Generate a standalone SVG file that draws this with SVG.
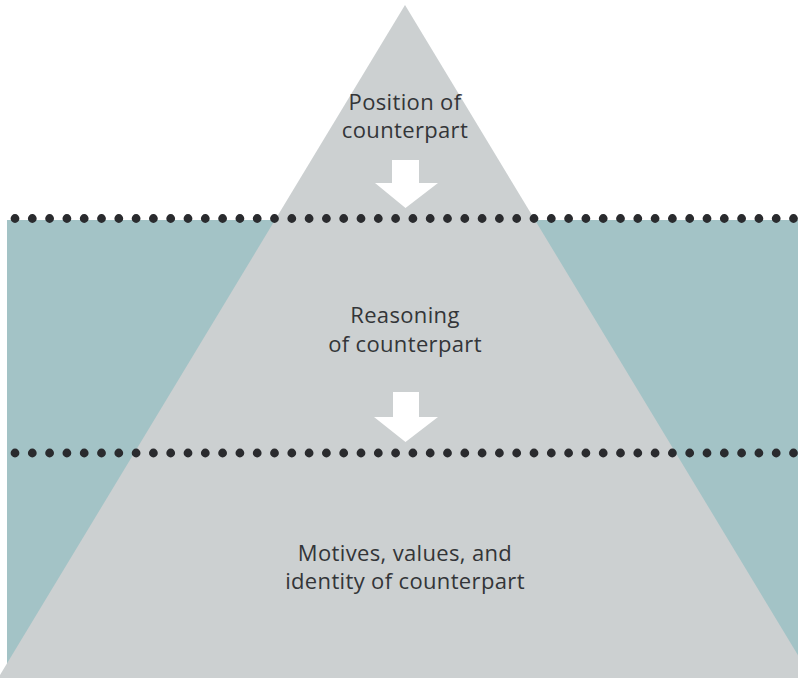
<svg xmlns="http://www.w3.org/2000/svg" width="798" height="678" viewBox="0 0 798 678">
<defs>
<style>
.lbl{font-family:"Open Sans",Lato,"Liberation Sans",sans-serif;font-size:22px;letter-spacing:0.35px;fill:#333538;text-anchor:middle;font-variant-ligatures:none}
.arrow{fill:#ffffff}
.dots{stroke:#2a2b2e;stroke-width:8.8;stroke-linecap:round;stroke-dasharray:0 17.3;fill:none}
</style>
</defs>
<rect width="798" height="678" fill="#ffffff"/>
<rect x="7" y="220" width="791" height="445" fill="#a3c3c6"/>
<rect x="7" y="665" width="791" height="13" fill="#ccd0d1"/>
<g id="iceberg">
<polygon points="405,5 -3,680 813,680" fill="#ccd0d1"/>
</g>
<g id="waterlines">
<line class="dots" x1="15" y1="218.5" x2="800" y2="218.5"/>
<line class="dots" x1="15" y1="453" x2="800" y2="453"/>
</g>
<g id="position">
<text class="lbl" x="405" y="110">Position of</text>
<text class="lbl" x="405" y="138">counterpart</text>
</g>
<g id="reasoning">
<text class="lbl" x="405" y="323">Reasoning</text>
<text class="lbl" x="405" y="352">of counterpart</text>
</g>
<g id="motives">
<text class="lbl" x="405" y="561">Motives, values, and</text>
<text class="lbl" x="405" y="589">identity of counterpart</text>
</g>
<g id="connectors">
<polygon class="arrow" points="392,160 419,160 419,183 438,183 405.5,208 375,183 392,183"/>
<polygon class="arrow" points="393,392 419,392 419,417 438,417 405.5,442 374,417 393,417"/>
</g>
</svg>
